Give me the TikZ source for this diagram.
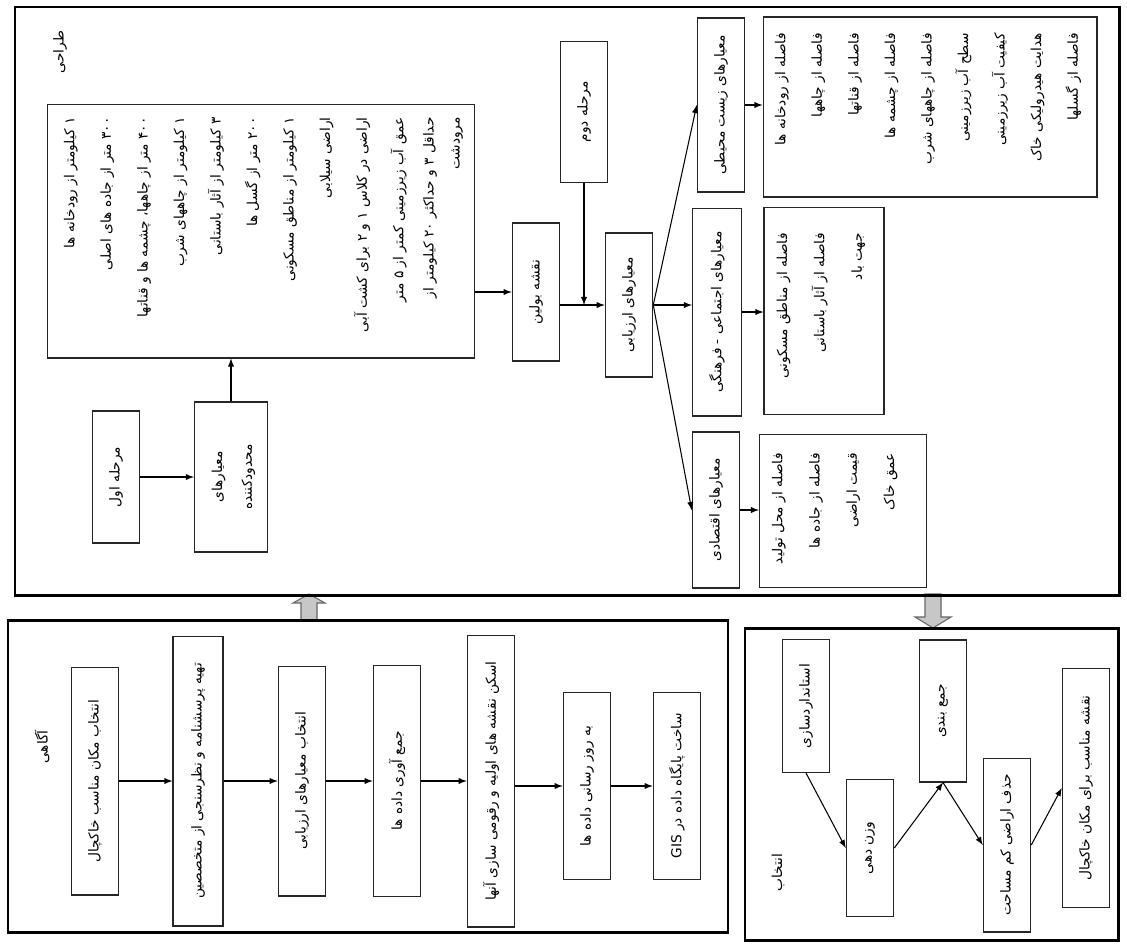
\documentclass[tikz,border=0pt]{standalone}
\usepackage{fontspec}
\newfontfamily\farsi[Script=Arabic]{DejaVu Sans}
\TeXXeTstate=1
\usetikzlibrary{arrows,positioning,shapes}

\newcommand{\fsz}{7.8}
\newcommand{\rl}[1]{\beginR #1\endR}
\newcommand{\vt}[1]{\rotatebox{90}{\rl{#1}}}
\newcommand{\vlist}[3][r]{\rotatebox{90}{\fontsize{\fsz}{#2}\selectfont
  \begin{tabular}{@{}#1@{}}#3\end{tabular}}}

\begin{document}
\begin{tikzpicture}[x=0.02cm,y=-0.02cm,>=latex,
  every node/.style={font=\farsi\fontsize{\fsz}{9.5}\selectfont},
  box/.style={draw=black!85,line width=0.6pt,inner sep=0pt,minimum width=0.95cm},
  listbox/.style={draw=black!85,line width=0.6pt,inner sep=0pt},
  list/.style={inner sep=0pt,anchor=north west},
  frame/.style={line width=1.7pt},
  arr/.style={->,line width=0.6pt},
  bigarr/.style={draw=black!60,fill=black!22,line width=0.6pt}]

  \fill[white] (0,0) rectangle (1127,951);
  \useasboundingbox (0,0) rectangle (1127,951);

  % arrows between the stages
  \draw[bigarr] (301,621) -- (301,603) -- (293,603) -- (309,594) -- (325,603)
    -- (317,603) -- (317,621) -- cycle;
  \draw[bigarr] (925,594) -- (925,617) -- (915,617) -- (933,628) -- (951,617)
    -- (941,617) -- (941,594) -- cycle;

  % stage frames
  \draw[frame] (15,7) rectangle (1119,595);
  \draw[frame] (8,620) rectangle (728,932);
  \draw[frame] (745,628) rectangle (1118,940);

  % design stage
  \node (tarahi) at (60,52) {\vt{طراحی}};
  \node[box,minimum height=2.64cm] (stage1) at (116,477) {\vt{مرحله اول}};
  \node[box,minimum width=1.46cm,minimum height=3cm] (limit) at (231,477)
    {\vlist[c]{17pt}{\rl{معیارهای}\\ \rl{محدودکننده}}};
  \node[listbox,minimum width=8.56cm,minimum height=5.08cm] (cons) at (261,231) {};
  \node[list] (conslist) at (48.5,117) {\vlist{20.8pt}{%
    \rl{۱ کیلومتر از رودخانه ها}\\
    \rl{۳۰۰ متر از جاده های اصلی}\\
    \rl{۴۰۰ متر از چاهها، چشمه ها و قناتها}\\
    \rl{۱ کیلومتر از چاههای شرب}\\
    \rl{۳ کیلومتر از آثار باستانی}\\
    \rl{۲۰۰ متر از گسل ها}\\
    \rl{۱ کیلومتر از مناطق مسکونی}\\
    \rl{اراضی سیلابی}\\
    \rl{اراضی در کلاس ۱ و ۲ برای کشت آبی}\\
    \rl{عمق آب زیرزمینی کمتر از ۵ متر}\\[-3.5pt]
    \rl{حداقل ۳ و حداکثر ۲۰ کیلومتر از}\\[-6pt]
    \rl{مرودشت}}};
  \node[box,minimum height=2.76cm] (bool) at (536,292) {\vt{نقشه بولین}};
  \node[box,minimum height=2.82cm] (stage2) at (584,112) {\vt{مرحله دوم}};
  \node[box,minimum height=2.88cm] (eval) at (629,305) {\vt{معیارهای ارزیابی}};
  \node[box,minimum height=3.48cm] (env) at (721,105) {\vt{معیارهای زیست محیطی}};
  \node[box,minimum width=0.98cm,minimum height=4.16cm] (soc) at (717,312)
    {\vt{معیارهای اجتماعی - فرهنگی}};
  \node[box,minimum height=3.12cm] (eco) at (716,510) {\vt{معیارهای اقتصادی}};
  \node[listbox,minimum width=6.68cm,minimum height=3.6cm] (envbox) at (930,107) {};
  \node[list] (envlist) at (759.5,33) {\vlist{20.8pt}{%
    \rl{فاصله از رودخانه ها}\\
    \rl{فاصله از چاهها}\\
    \rl{فاصله از قناتها}\\
    \rl{فاصله از چشمه ها}\\
    \rl{فاصله از چاههای شرب}\\
    \rl{سطح آب زیرزمینی}\\
    \rl{کیفیت آب زیرزمینی}\\
    \rl{هدایت هیدرولیکی خاک}\\
    \rl{فاصله از گسلها}}};
  \node[listbox,minimum width=2.4cm,minimum height=4.14cm] (socbox) at (824,311) {};
  \node[list] (soclist) at (760.5,233) {\vlist{21.3pt}{%
    \rl{فاصله از مناطق مسکونی}\\
    \rl{فاصله از آثار باستانی}\\
    \rl{جهت باد}}};
  \node[listbox,minimum width=3.34cm,minimum height=3.06cm] (ecobox) at (843,511) {};
  \node[list] (ecolist) at (756,453) {\vlist{21.2pt}{%
    \rl{فاصله از محل تولید}\\
    \rl{فاصله از جاده ها}\\
    \rl{قیمت اراضی}\\
    \rl{عمق خاک}}};

  \draw[arr] (stage1) -- (limit);
  \draw[arr] (limit) -- (limit |- cons.south);
  \draw[arr] (cons.east |- bool) -- (bool);
  \draw[arr] (bool.east |- eval) -- (eval);
  \draw[arr] (stage2) -- (stage2 |- eval);
  \draw[arr] (eval.east) -- (env.west);
  \draw[arr] (eval.east) -- (eval.east -| soc.west);
  \draw[arr] (eval.east) -- (eco.west);
  \draw[arr] (env) -- (env -| envbox.west);
  \draw[arr] (soc) -- (soc -| socbox.west);
  \draw[arr] (eco) -- (eco -| ecobox.west);

  % awareness stage
  \node (agahi) at (42,747) {\vt{آگاهی}};
  \node[box,minimum height=4.56cm] (a1) at (95,781) {\vt{انتخاب مکان مناسب خاکچال}};
  \node[box,minimum width=1cm,minimum height=5.8cm] (a2) at (198,781)
    {\vt{تهیه پرسشنامه و نظرسنجی از متخصصین}};
  \node[box,minimum height=4.6cm] (a3) at (302,781) {\vt{انتخاب معیارهای ارزیابی}};
  \node[box,minimum height=4.62cm] (a4) at (397,781) {\vt{جمع آوری داده ها}};
  \node[box,minimum height=5.84cm] (a5) at (491,781)
    {\vt{اسکن نقشه های اولیه و رقومی سازی آنها}};
  \node[box,minimum height=3.74cm] (a6) at (587,786) {\vt{به روز رسانی داده ها}};
  \node[box,minimum height=3.74cm] (a7) at (677,786) {\vt{ساخت پایگاه داده در GIS}};

  \draw[arr] (a1) -- (a2);
  \draw[arr] (a2) -- (a3);
  \draw[arr] (a3) -- (a4);
  \draw[arr] (a4) -- (a5);
  \draw[arr] (a5.east |- a6) -- (a6);
  \draw[arr] (a6) -- (a7);

  % selection stage
  \node (entekhab) at (778,873) {\vt{انتخاب}};
  \node[box,minimum height=2.66cm] (s1) at (806,706) {\vt{استانداردسازی}};
  \node[box,minimum height=2.74cm] (s2) at (870,848) {\vt{وزن دهی}};
  \node[box,minimum height=2.84cm] (s3) at (943,711) {\vt{جمع بندی}};
  \node[box,minimum height=3.48cm] (s4) at (1007,845) {\vt{حذف اراضی کم مساحت}};
  \node[box,minimum height=4.78cm] (s5) at (1086,788) {\vt{نقشه مناسب برای مکان خاکچال}};

  \draw[arr] (s1.south) -- (s2.west);
  \draw[arr] (s2.east) -- (s3.south);
  \draw[arr] (s3.south) -- (s4.west);
  \draw[arr] (s4.east) -- (s5.west);
\end{tikzpicture}
\end{document}
